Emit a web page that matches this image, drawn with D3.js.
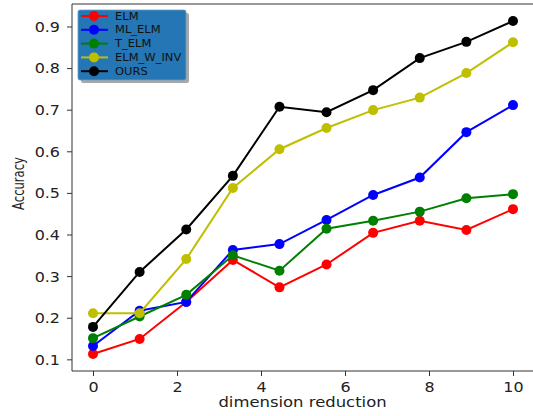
<!DOCTYPE html>
<html>
<head>
<meta charset="utf-8">
<script src="https://cdn.jsdelivr.net/npm/d3@7"></script>
<style>
  body { margin: 0; background: #fff; }
  svg { display: block; font-family: "DejaVu Sans", sans-serif; }
</style>
</head>
<body>
<svg id="chart" width="533" height="416"></svg>
<script>
// ---- data ----
const xValues = [0, 1.11, 2.22, 3.33, 4.44, 5.56, 6.67, 7.78, 8.89, 10];
const seriesNames = ["ELM", "ML_ELM", "T_ELM", "ELM_W_INV", "OURS"];
const seriesColors = ["#ff0000", "#0000ff", "#008000", "#bfbf00", "#000000"];
const elm      = [0.113, 0.149, 0.238, 0.339, 0.273, 0.328, 0.404, 0.433, 0.411, 0.461];
const mlElm    = [0.132, 0.217, 0.238, 0.363, 0.377, 0.435, 0.495, 0.537, 0.646, 0.711];
const tElm     = [0.151, 0.203, 0.255, 0.350, 0.313, 0.414, 0.433, 0.455, 0.487, 0.497];
const elmWInv  = [0.211, 0.211, 0.341, 0.512, 0.605, 0.656, 0.699, 0.729, 0.788, 0.862];
const ours     = [0.178, 0.310, 0.412, 0.541, 0.707, 0.694, 0.747, 0.824, 0.863, 0.913];
const xTicks = [0, 2, 4, 6, 8, 10];
const yTicks = [0.1, 0.2, 0.3, 0.4, 0.5, 0.6, 0.7, 0.8, 0.9];
const xLabel = "dimension reduction";
const yLabel = "Accuracy";

const allSeries = [elm, mlElm, tElm, elmWInv, ours];

// ---- layout ----
const svg = d3.select("#chart");
const pLeft = 72, pRight = 534, pTop = 4, pBottom = 371;
const x = d3.scaleLinear().domain([-0.5, 10.5]).range([pLeft, pRight]);
const y = d3.scaleLinear().domain([0.072, 0.954]).range([pBottom, pTop]);
const sx = 1.18;

// axes
const xAxis = svg.append("g").attr("transform", `translate(0,${pBottom})`)
  .call(d3.axisBottom(x).tickValues(xTicks).tickSize(5).tickFormat(d3.format("d")));
xAxis.select(".domain").remove();
xAxis.selectAll(".tick line").attr("stroke", "#333");
xAxis.selectAll(".tick text")
  .attr("font-size", 13.5).attr("fill", "#222").attr("font-family", "DejaVu Sans")
  .attr("y", 0).attr("dy", 0)
  .attr("transform", `translate(0,21) scale(${sx},1)`);

const yAxis = svg.append("g").attr("transform", `translate(${pLeft},0)`)
  .call(d3.axisLeft(y).tickValues(yTicks).tickSize(5).tickFormat(d3.format(".1f")));
yAxis.select(".domain").remove();
yAxis.selectAll(".tick line").attr("stroke", "#333");
yAxis.selectAll(".tick text")
  .attr("font-size", 13.5).attr("fill", "#222").attr("font-family", "DejaVu Sans")
  .attr("x", 0).attr("dy", "0.36em")
  .attr("transform", `translate(-12,0) scale(${sx},1)`);

// spines
const sp = svg.append("g").attr("stroke", "#333").attr("stroke-width", 1).attr("fill", "none");
sp.append("line").attr("x1", pLeft).attr("x2", pLeft).attr("y1", pTop).attr("y2", pBottom);
sp.append("line").attr("x1", pLeft).attr("x2", pRight).attr("y1", pBottom).attr("y2", pBottom);
sp.append("line").attr("x1", pLeft).attr("x2", pRight).attr("y1", pTop).attr("y2", pTop);
sp.append("line").attr("x1", pRight).attr("x2", pRight).attr("y1", pTop).attr("y2", pBottom);

// lines + markers
const line = d3.line().x((d, i) => x(xValues[i])).y(d => y(d));
allSeries.forEach((vals, k) => {
  const g = svg.append("g");
  g.append("path").datum(vals).attr("d", line)
    .attr("fill", "none").attr("stroke", seriesColors[k]).attr("stroke-width", 2);
  g.selectAll("circle").data(vals).join("circle")
    .attr("cx", (d, i) => x(xValues[i])).attr("cy", d => y(d))
    .attr("r", 5).attr("fill", seriesColors[k]);
});

// axis labels
svg.append("text").attr("text-anchor", "middle").attr("font-size", 13.7).attr("fill", "#222")
  .attr("transform", `translate(302.5,407) scale(1.2,1)`).text(xLabel);
svg.append("text").attr("text-anchor", "middle").attr("font-size", 11.6).attr("fill", "#222")
  .attr("transform", `translate(24,183.5) rotate(-90) scale(1,1.3)`).text(yLabel);

// legend
const lg = svg.append("g");
lg.append("rect").attr("x", 81).attr("y", 13).attr("width", 108).attr("height", 70)
  .attr("fill", "#a8a8a8").attr("rx", 2);
lg.append("rect").attr("x", 78).attr("y", 10).attr("width", 108).attr("height", 70)
  .attr("fill", "#2476b4").attr("stroke", "#6a9cc4").attr("stroke-width", 0.8).attr("rx", 2);
seriesNames.forEach((name, k) => {
  const yy = 16 + k * 13.8;
  lg.append("line").attr("x1", 81).attr("x2", 108).attr("y1", yy).attr("y2", yy)
    .attr("stroke", seriesColors[k]).attr("stroke-width", 2);
  lg.append("circle").attr("cx", 94).attr("cy", yy).attr("r", 5).attr("fill", seriesColors[k]);
  lg.append("text").attr("font-size", 10).attr("fill", "#111").attr("dy", "0.36em")
    .attr("transform", `translate(115,${yy}) scale(1.15,1)`).text(name);
});
</script>
</body>
</html>
